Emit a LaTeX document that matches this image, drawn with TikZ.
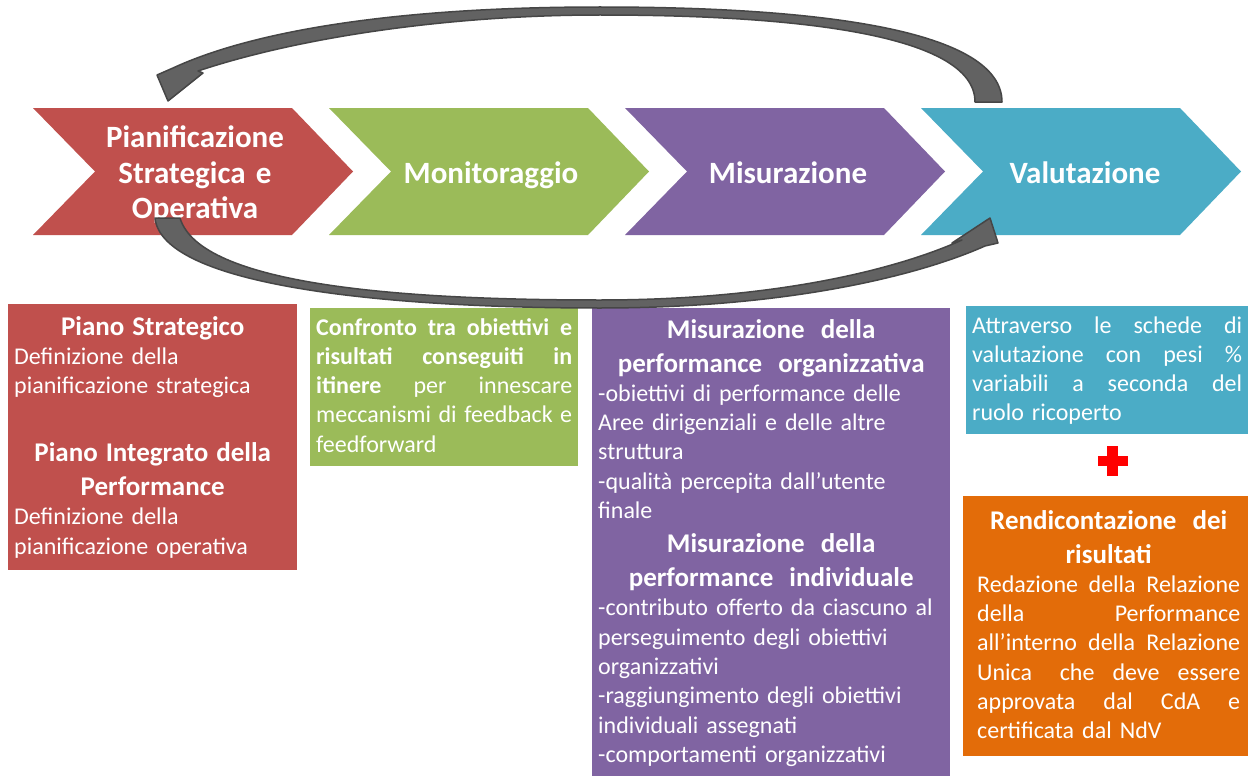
\documentclass[tikz,border=0pt]{standalone}
\usepackage{fontspec}
\setmainfont{Carlito}
\usepackage{tikz}

\definecolor{planred}{HTML}{C0504D}
\definecolor{mongreen}{HTML}{9BBB59}
\definecolor{mispurple}{HTML}{8064A2}
\definecolor{valcyan}{HTML}{4BACC6}
\definecolor{rendorange}{HTML}{E36C09}
\definecolor{loopgray}{RGB}{98,98,98}
\definecolor{loopedge}{RGB}{70,70,70}

\newcommand\chevfont{\fontsize{31}{35.5}\selectfont\bfseries}
\newcommand\headfont{\fontsize{27}{34}\selectfont\bfseries}
\newcommand\bodyfont{\fontsize{24}{29.3}\selectfont}
% a justified line: spaces stretch to the full width
\newcommand\jline[1]{\leavevmode\hbox to \linewidth{\spaceskip=.23em plus 1fil\relax#1}}

\begin{document}
\begin{tikzpicture}[
    x=1pt, y=-1pt,
    chev/.style={fill=#1},
    chev_txt/.style={text=white, font=\chevfont, text width=250, align=center, anchor=base, inner sep=0pt},
    box/.style={fill=#1, anchor=north west, inner sep=0pt},
    box_txt/.style={text=white, font=\bodyfont, anchor=base west, inner sep=0pt},
    loop/.style={fill=loopgray, draw=loopedge, line width=1.5pt, line join=round}
]
    % Fixed frame of the picture
    \useasboundingbox (0,0) rectangle (1248,776);
    \fill[white] (0,0) rectangle (1248,776);

    % One chevron outline, shifted for each phase
    \def\chevpath{(0,108) -- (259,108) -- (320,171.5) -- (259,235) -- (0,235) -- (62,171.5) -- cycle}

    \fill[chev=planred, shift={(33,0)}] \chevpath;
    \fill[chev=mongreen, shift={(329,0)}] \chevpath;
    \fill[chev=mispurple, shift={(625,0)}] \chevpath;
    \fill[chev=valcyan, shift={(921,0)}] \chevpath;

    \node[chev_txt] (plan) at (195,147.5) {Pianificazione\\ Strategica e\\ Operativa};
    \node[chev_txt] (mon) at (491,183) {Monitoraggio};
    \node[chev_txt] (mis) at (788,183) {Misurazione};
    \node[chev_txt] (val) at (1085,183) {Valutazione};

    % --- Boxes under the phases ---
    \node[box=planred, minimum width=289, minimum height=266] (plan_box) at (8,304) {};
    \node[box_txt, text width=277] (plan_txt) at (14,335) {%
        {\centering\headfont Piano Strategico\par}
        Definizione della\\ pianificazione strategica\par
        \vspace{34pt}
        {\centering\headfont Piano Integrato della\\ Performance\par}
        Definizione della\\ pianificazione operativa\par};

    \node[box=mongreen, minimum width=268, minimum height=158] (mon_box) at (310,308) {};
    \node[box_txt, text width=256] (mon_txt) at (316,335) {%
        \jline{\bfseries Confronto tra obiettivi e}\\
        \jline{\bfseries risultati conseguiti in}\\
        \jline{\textbf{itinere} per innescare}\\
        \jline{meccanismi di feedback e}\\
        feedforward\par};

    \node[box=mispurple, minimum width=358, minimum height=468] (mis_box) at (592,308) {};
    \node[box_txt, text width=346] (mis_txt) at (598,338) {%
        {\centering\headfont Misurazione\ \ della\\ performance\ \ organizzativa\par}
        -obiettivi di performance delle\\ Aree dirigenziali e delle altre\\ struttura\\
        -qualità percepita dall’utente\\ finale\par
        {\centering\headfont Misurazione\ \ della\\ performance\ \ individuale\par}
        -contributo offerto da ciascuno al\\ perseguimento degli obiettivi\\ organizzativi\\
        -raggiungimento degli obiettivi\\ individuali assegnati\\
        -comportamenti organizzativi\par};

    \node[box=valcyan, minimum width=282, minimum height=128] (val_box) at (966,306) {};
    \node[box_txt, text width=270] (val_txt) at (972,333) {%
        \jline{Attraverso le schede di}\\
        \jline{valutazione con pesi \%}\\
        \jline{variabili a seconda del}\\
        ruolo ricoperto\par};

    % the red plus between the two boxes
    \fill[red] (1107,446) rectangle (1118,476);
    \fill[red] (1097.5,456) rectangle (1127.5,466);

    \node[box=rendorange, minimum width=285, minimum height=260] (rend_box) at (963,496) {};
    \node[box_txt, text width=263] (rend_txt) at (977,529) {%
        {\centering\headfont Rendicontazione\ \ dei\\ risultati\par}
        \jline{Redazione della Relazione}\\
        \jline{della Performance}\\
        \jline{all’interno della Relazione}\\
        \jline{Unica\hspace{.4em} che deve essere}\\
        \jline{approvata dal CdA e}\\
        certificata dal NdV\par};

    % --- The loop arrows ---
    % back from Valutazione to Pianificazione (over the top)
    \def\arrowTop{(1002,102) .. controls (1002,30) and (820,7) .. (600,7) .. controls (400,7) and (255,30) .. (173,68)
        -- (157,75) -- (168,101) -- (203,73) -- (198,71)
        .. controls (300,37) and (450,15) .. (600,15) .. controls (800,15) and (975,35) .. (975,102) -- cycle}
    % forward from Pianificazione to Valutazione (underneath)
    \def\arrowBot{(155,218) .. controls (162,285) and (380,308) .. (600,308) .. controls (790,308) and (920,275) .. (985,246)
        -- (998,243) -- (990,218) -- (952,243) -- (962,240)
        .. controls (900,268) and (780,300) .. (600,300) .. controls (400,300) and (200,285) .. (180,218) -- cycle}

    \filldraw[loop] \arrowTop;
    \filldraw[loop] \arrowBot;

\end{tikzpicture}
\end{document}
